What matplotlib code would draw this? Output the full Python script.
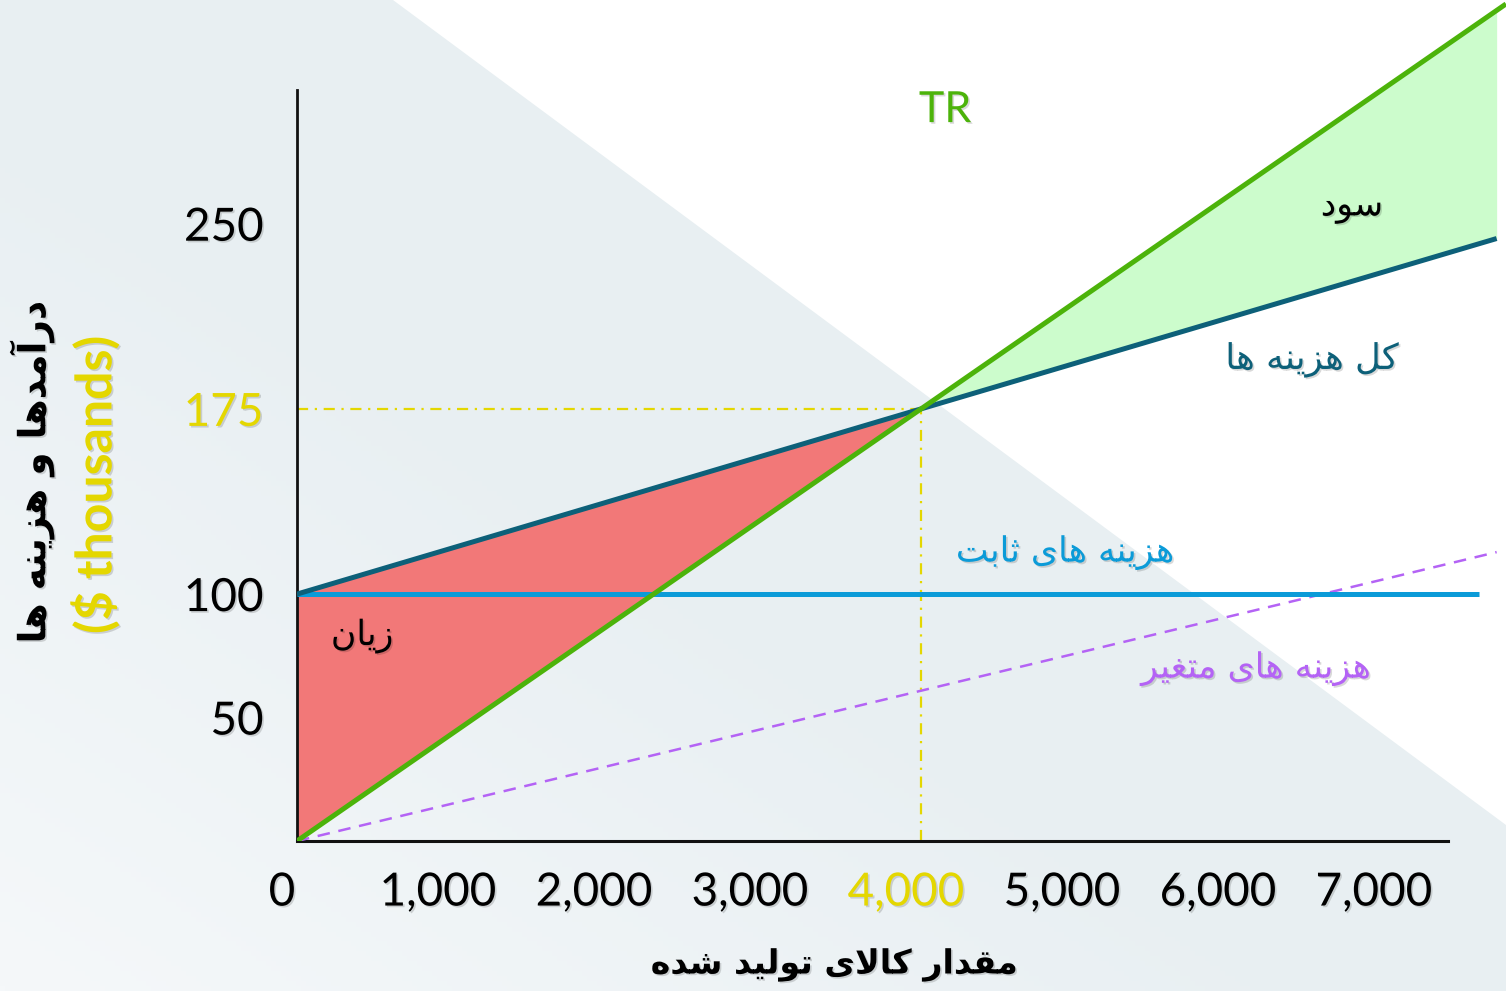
import matplotlib
matplotlib.use('Agg')
import numpy as np
import matplotlib.pyplot as plt
import matplotlib.patheffects as pe
from matplotlib.patches import Polygon
from matplotlib.transforms import ScaledTranslation

# ---- break-even data (quantity in units, money in $ thousands) ----
tr_q = [0, 4000, 7750]
tr_v = [0, 175, 339]
tc_q = [0, 4000, 7690]
tc_v = [100, 175, 244]
fc_q = [0, 7580]
fc_v = [100, 100]
vc_q = [0, 7690]
vc_v = [0, 117]
be_q, be_v = 4000, 175

x_ticks = [0, 1000, 2000, 3000, 4000, 5000, 6000, 7000]
x_labels = ['0', '1,000', '2,000', '3,000', '4,000', '5,000', '6,000', '7,000']
y_ticks = [50, 100, 175, 250]
y_labels = ['50', '100', '175', '250']

GREEN = '#4cb30a'
TEAL = '#0d6079'
BLUE = '#0b9bd8'
PURPLE = '#b463f5'
YELLOW = '#e4d700'
LOSS = '#f27878'
PROFIT = '#ccfccc'

# ---- minimal Persian shaping (presentation forms + RTL order) ----
FORMS = {
    'ا': ('\uFE8D', '\uFE8E', None, None),
    'آ': ('\uFE81', '\uFE82', None, None),
    'ب': ('\uFE8F', '\uFE90', '\uFE91', '\uFE92'),
    'ت': ('\uFE95', '\uFE96', '\uFE97', '\uFE98'),
    'ث': ('\uFE99', '\uFE9A', '\uFE9B', '\uFE9C'),
    'د': ('\uFEA9', '\uFEAA', None, None),
    'ر': ('\uFEAD', '\uFEAE', None, None),
    'ز': ('\uFEAF', '\uFEB0', None, None),
    'س': ('\uFEB1', '\uFEB2', '\uFEB3', '\uFEB4'),
    'ش': ('\uFEB5', '\uFEB6', '\uFEB7', '\uFEB8'),
    'غ': ('\uFECD', '\uFECE', '\uFECF', '\uFED0'),
    'ق': ('\uFED5', '\uFED6', '\uFED7', '\uFED8'),
    'ل': ('\uFEDD', '\uFEDE', '\uFEDF', '\uFEE0'),
    'م': ('\uFEE1', '\uFEE2', '\uFEE3', '\uFEE4'),
    'ن': ('\uFEE5', '\uFEE6', '\uFEE7', '\uFEE8'),
    'ه': ('\uFEE9', '\uFEEA', '\uFEEB', '\uFEEC'),
    'و': ('\uFEED', '\uFEEE', None, None),
    'ی': ('\uFBFC', '\uFBFD', '\uFBFE', '\uFBFF'),
    'ک': ('\uFB8E', '\uFB8F', '\uFB90', '\uFB91'),
}
LAM_ALEF = {'ا': ('\uFEFB', '\uFEFC'), 'آ': ('\uFEF5', '\uFEF6')}


def fa(text):
    out = []
    n = len(text)
    i = 0
    while i < n:
        c = text[i]
        if c not in FORMS:
            out.append(c)
            i += 1
            continue
        prev = text[i - 1] if i > 0 else None
        link_prev = prev in FORMS and FORMS[prev][2] is not None
        nxt = text[i + 1] if i + 1 < n else None
        if c == 'ل' and nxt in LAM_ALEF:
            out.append(LAM_ALEF[nxt][1 if link_prev else 0])
            i += 2
            continue
        link_next = FORMS[c][2] is not None and nxt in FORMS
        iso, fin, ini, med = FORMS[c]
        if link_prev and link_next:
            out.append(med)
        elif link_prev:
            out.append(fin)
        elif link_next:
            out.append(ini)
        else:
            out.append(iso)
        i += 1
    return ''.join(reversed(out))


shadow = [pe.SimplePatchShadow(offset=(1.2, -1.2), shadow_rgbFace='k', alpha=0.15), pe.Normal()]
num_font = dict(family=['Lato', 'DejaVu Sans'])
fa_font = dict(family=['DejaVu Sans'])

W, H = 1506, 991
fig = plt.figure(figsize=(W / 100, H / 100), dpi=100)
fig.patch.set_facecolor('white')

# background: soft grey-blue with a lighter lower-left corner and a white wedge
bg = fig.add_axes([0, 0, 1, 1], zorder=-10)
bg.set_xlim(0, 1)
bg.set_ylim(0, 1)
bg.axis('off')
gx, gy = np.meshgrid(np.linspace(0, 1, 300), np.linspace(0, 1, 200))
f = np.clip(1 - (gx + gy) / 0.9, 0, 1)[..., None]
c0 = np.array([232, 239, 242]) / 255
c1 = np.array([245, 248, 250]) / 255
bg.imshow(c0 + (c1 - c0) * f, extent=[0, 1, 0, 1], origin='lower', aspect='auto')
bg.add_patch(Polygon([(393 / W, 1), (1, 1), (1, 1 - 825 / H)], closed=True,
                     facecolor='white', edgecolor='none'))

ax = fig.add_axes([297 / W, 150 / H, (W - 297) / W, 841 / H])
ax.set_facecolor('none')
ax.set_xlim(0, 7750)
ax.set_ylim(0, 340.6)

# loss and profit areas
q_loss = np.linspace(0, be_q, 50)
ax.fill_between(q_loss, np.interp(q_loss, tr_q, tr_v), np.interp(q_loss, tc_q, tc_v),
                color=LOSS, lw=0, zorder=1)
q_prof = np.linspace(be_q, tc_q[-1], 50)
ax.fill_between(q_prof, np.interp(q_prof, tc_q, tc_v), np.interp(q_prof, tr_q, tr_v),
                color=PROFIT, lw=0, zorder=1)

# guide lines to the break-even point
ax.plot([0, be_q], [be_v, be_v], color=YELLOW, lw=1.6, dashes=(5, 3, 1, 3), zorder=2)
ax.plot([be_q, be_q], [0, be_v], color=YELLOW, lw=1.6, dashes=(5, 3, 1, 3), zorder=2)

# cost and revenue lines
ax.plot(vc_q, vc_v, color=PURPLE, lw=1.8, dashes=(5, 3.5), zorder=3)
ax.plot(fc_q, fc_v, color=BLUE, lw=3.6, solid_capstyle='butt', zorder=4)
ax.plot(tc_q, tc_v, color=TEAL, lw=3.6, solid_capstyle='butt', zorder=5)
ax.plot(tr_q, tr_v, color=GREEN, lw=3.6, solid_capstyle='butt', zorder=6)

# axes
for s in ['top', 'right']:
    ax.spines[s].set_visible(False)
ax.spines['left'].set_bounds(0, 304)
ax.spines['bottom'].set_bounds(0, 7378)
ax.spines['left'].set_linewidth(2)
ax.spines['bottom'].set_linewidth(2.2)
ax.spines['left'].set_color('#111111')
ax.spines['bottom'].set_color('#111111')

ax.set_xticks(x_ticks)
ax.set_xticklabels(x_labels)
ax.set_yticks(y_ticks)
ax.set_yticklabels(y_labels)
ax.tick_params(length=0, labelsize=33, pad=22)
ax.tick_params(axis='y', pad=24)
shift = ScaledTranslation(-15 / 100, 0, fig.dpi_scale_trans)
for lab in ax.get_xticklabels():
    lab.set_fontfamily(num_font['family'])
    lab.set_transform(lab.get_transform() + shift)
    lab.set_path_effects(shadow)
for lab in ax.get_yticklabels():
    lab.set_fontfamily(num_font['family'])
    lab.set_path_effects(shadow)
ax.get_xticklabels()[4].set_color(YELLOW)
ax.get_yticklabels()[2].set_color(YELLOW)

# axis titles
fig.text(835 / W, 1 - 965 / H, fa('مقدار کالای تولید شده'), ha='center', va='center',
         fontsize=24, fontweight='bold', path_effects=shadow, **fa_font)
fig.text(32 / W, 1 - 472 / H, fa('درآمدها و هزینه ها'), ha='center', va='center',
         rotation=90, fontsize=27, fontweight='bold', path_effects=shadow, **fa_font)
fig.text(95 / W, 1 - 485 / H, '($ thousands)', ha='center', va='center', rotation=90,
         fontsize=36, fontweight='bold', color=YELLOW, path_effects=shadow, **num_font)

# line and area labels
ax.text(4154, 296, 'TR', color=GREEN, fontsize=31, ha='center', va='center',
        path_effects=shadow, **num_font)
ax.text(6763, 257, fa('سود'), fontsize=25, ha='center', va='center',
        path_effects=shadow, **fa_font)
ax.text(6506, 195, fa('کل هزینه ها'), color=TEAL, fontsize=25.5, ha='center', va='center',
        path_effects=shadow, **fa_font)
ax.text(4923, 117, fa('هزینه های ثابت'), color=BLUE, fontsize=25, ha='center', va='center',
        path_effects=shadow, **fa_font)
ax.text(6147, 70, fa('هزینه های متغیر'), color=PURPLE, fontsize=25, ha='center', va='center',
        path_effects=shadow, **fa_font)
ax.text(417, 83, fa('زیان'), fontsize=25, ha='center', va='center',
        path_effects=shadow, **fa_font)

fig.savefig('out.png', dpi=100)
